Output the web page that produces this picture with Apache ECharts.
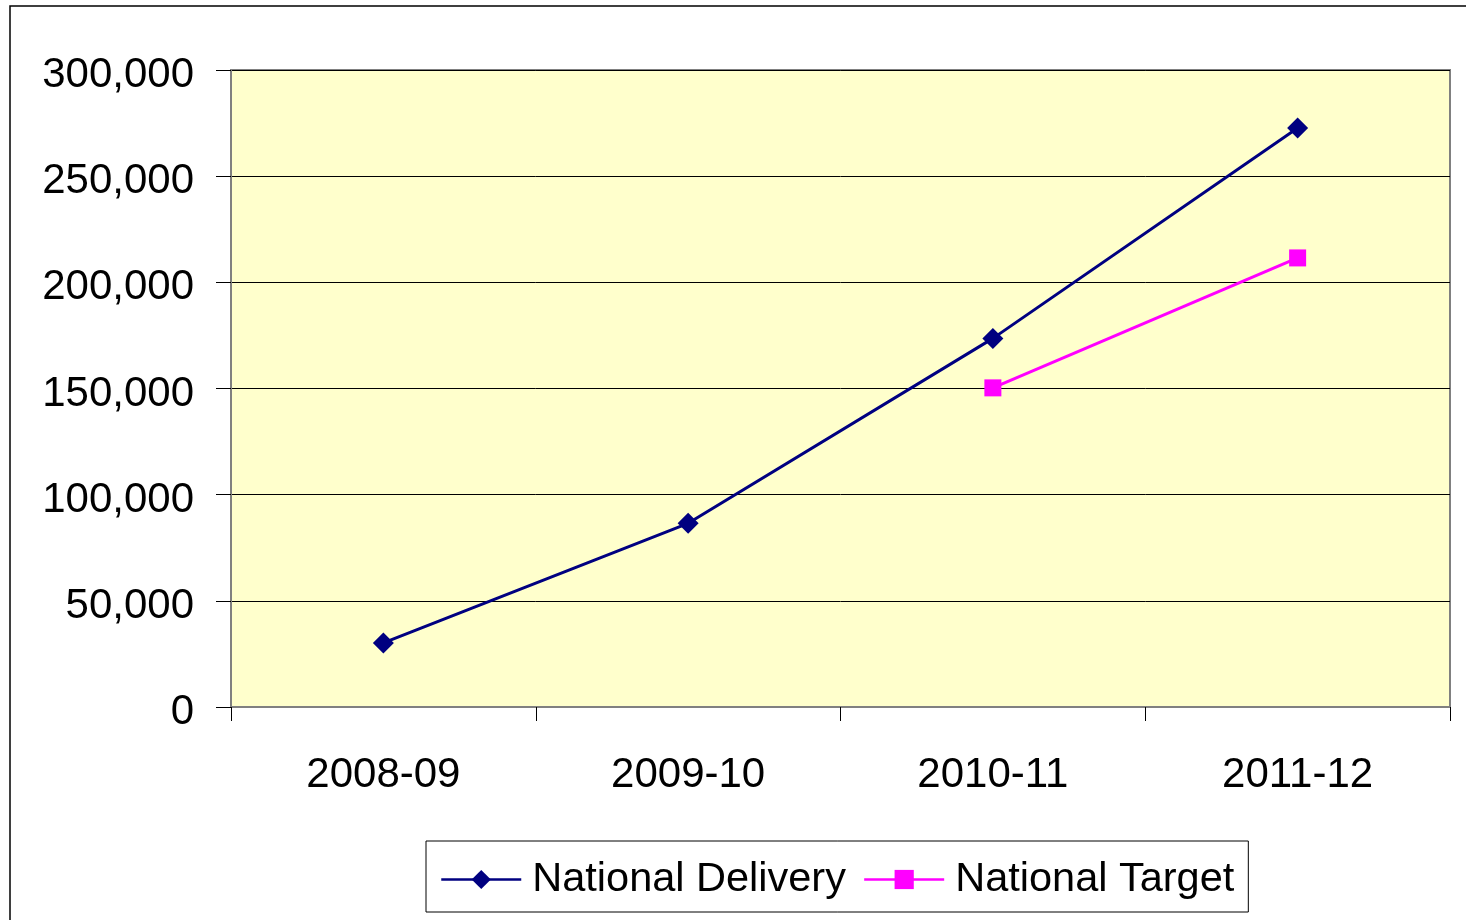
<!DOCTYPE html>
<html>
<head>
<meta charset="utf-8">
<title>National Delivery vs Target</title>
<script src="https://cdn.jsdelivr.net/npm/echarts@6/dist/echarts.min.js"></script>
<style>
  html, body { margin: 0; padding: 0; background: #fff; }
  #chart { width: 1466px; height: 920px; }
</style>
</head>
<body>
<div id="chart"></div>
<script>
const years = ['2008-09', '2009-10', '2010-11', '2011-12']
const delivery = [30200, 86500, 173600, 272700]
const target = [null, null, 150300, 211500]

const fontFamily = '"Liberation Sans", Arial, sans-serif'

const chart = echarts.init(document.getElementById('chart'))
chart.setOption({
  animation: false,
  textStyle: { fontFamily: fontFamily },
  graphic: [{
    // outer chart frame, runs off the right/bottom edge
    type: 'rect',
    shape: { x: 10, y: 6, width: 1600, height: 1100 },
    style: { fill: 'none', stroke: '#000', lineWidth: 1.5 },
    silent: true,
    z: 0
  }],
  grid: {
    left: 231,
    right: 16,
    top: 70,
    bottom: 213,
    show: true,
    backgroundColor: '#FFFFCC',
    borderColor: '#808080',
    borderWidth: 2
  },
  legend: {
    left: 426,
    top: 841,
    padding: [16, 14, 10, 14],
    backgroundColor: '#fff',
    borderColor: '#000',
    borderWidth: 1,
    itemWidth: 80,
    itemHeight: 24,
    itemGap: 17,
    lineStyle: { width: 2.5 },
    textStyle: {
      fontSize: 41.5,
      color: '#000',
      lineHeight: 45,
      padding: [0, 0, 0, 6]
    },
    data: ['National Delivery', 'National Target']
  },
  xAxis: {
    type: 'category',
    data: years,
    boundaryGap: true,
    axisLine: { lineStyle: { color: '#808080', width: 2 } },
    axisTick: { show: true, length: 14, lineStyle: { color: '#000', width: 1 } },
    axisLabel: { fontSize: 42, color: '#000', margin: 47 },
    splitLine: { show: false }
  },
  yAxis: {
    type: 'value',
    min: 0,
    max: 300000,
    interval: 50000,
    axisLine: { show: true, lineStyle: { color: '#808080', width: 2 } },
    axisTick: { show: true, length: 15, lineStyle: { color: '#000', width: 1 } },
    axisLabel: {
      color: '#000',
      margin: 37,
      formatter: function (v) { return '{v|' + echarts.format.addCommas(v) + '}' },
      rich: {
        v: { fontSize: 42, color: '#000', padding: [11, 0, 0, 0] }
      }
    },
    splitLine: { show: true, lineStyle: { color: '#000', width: 1 } }
  },
  series: [
    {
      name: 'National Delivery',
      type: 'line',
      data: delivery,
      symbol: 'diamond',
      symbolSize: 21,
      color: '#000080',
      lineStyle: { width: 3, color: '#000080' },
      itemStyle: { color: '#000080' }
    },
    {
      name: 'National Target',
      type: 'line',
      data: target,
      symbol: 'rect',
      symbolSize: 17,
      color: '#FF00FF',
      lineStyle: { width: 3, color: '#FF00FF' },
      itemStyle: { color: '#FF00FF' }
    }
  ]
})
</script>
</body>
</html>
